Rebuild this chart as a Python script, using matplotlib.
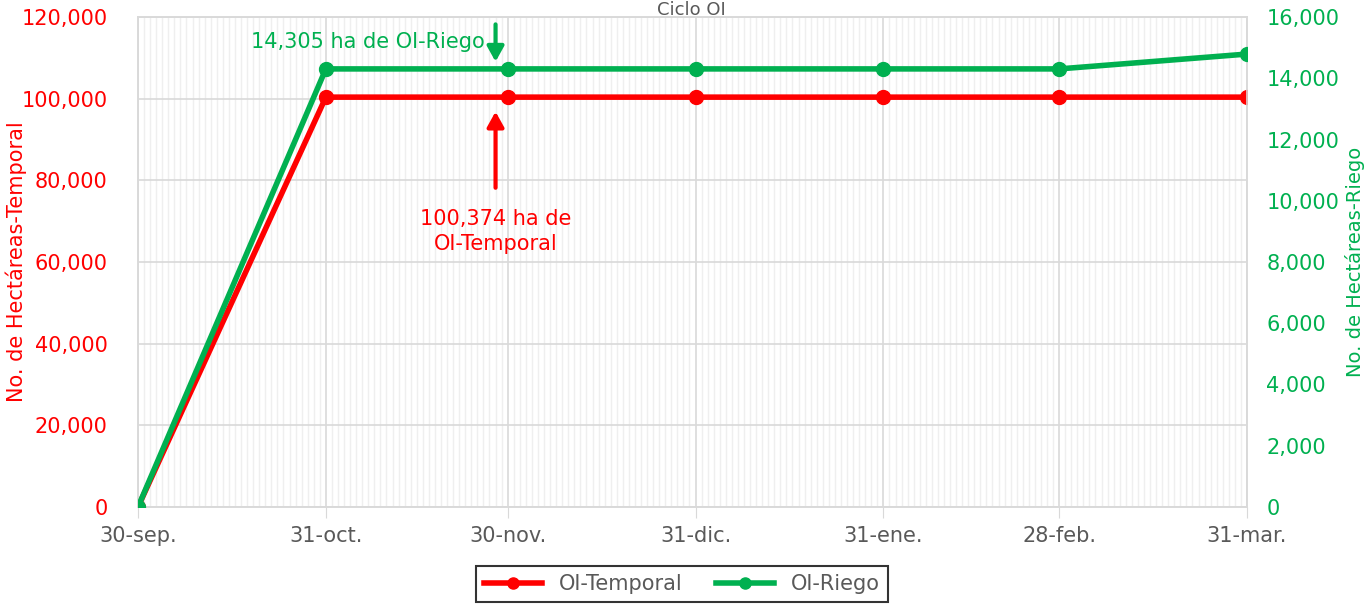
import matplotlib
matplotlib.use("Agg")
import matplotlib.pyplot as plt
import matplotlib.dates as mdates
import pandas as pd
from matplotlib.ticker import FuncFormatter, MultipleLocator

dates = ["2023-09-30", "2023-10-31", "2023-11-30", "2023-12-31", "2024-01-31", "2024-02-29", "2024-03-31"]
tick_labels = ["30-sep.", "31-oct.", "30-nov.", "31-dic.", "31-ene.", "28-feb.", "31-mar."]
temporal = [0, 100374, 100374, 100374, 100374, 100374, 100374]
riego = [0, 14305, 14305, 14305, 14305, 14305, 14790]

RED = "#ff0000"
GREEN = "#00b050"
GRAY_TXT = "#595959"
FS = 15

plt.rcParams['font.family'] = ['DejaVu Sans']

x = pd.to_datetime(dates)
fig = plt.figure(figsize=(13.69, 6.07), dpi=100)
ax = fig.add_axes([138/1369, 1 - 507/607, (1247-138)/1369, (507-17)/607])
ax2 = ax.twinx()

ax.set_xlim(x[0], x[-1])
ax.set_ylim(0, 120000)
ax2.set_ylim(0, 16000)

# grid
ax.xaxis.set_minor_locator(mdates.DayLocator())
ax.set_xticks(x)
ax.set_xticklabels(tick_labels, fontsize=FS, color=GRAY_TXT)
ax.grid(which='minor', axis='x', color='#efefef', linewidth=1)
ax.grid(which='major', axis='x', color='#d9d9d9', linewidth=1.2)
ax.yaxis.set_major_locator(MultipleLocator(20000))
ax.grid(which='major', axis='y', color='#d9d9d9', linewidth=1.2)
ax.set_axisbelow(True)
ax.tick_params(axis='x', which='minor', length=0)
ax.tick_params(axis='x', which='major', length=8, color='#d9d9d9', pad=6)

fmt = FuncFormatter(lambda v, p: f"{int(v):,}")
ax.yaxis.set_major_formatter(fmt)
ax.tick_params(axis='y', length=0, labelsize=FS, labelcolor=RED, pad=22)
ax2.yaxis.set_major_locator(MultipleLocator(2000))
ax2.yaxis.set_major_formatter(fmt)
ax2.tick_params(axis='y', length=0, labelsize=FS, labelcolor=GREEN, pad=14)

for a in (ax, ax2):
    for s in a.spines.values():
        s.set_color('#d9d9d9')
        s.set_linewidth(1.2)

l1, = ax.plot(x, temporal, color=RED, lw=4, marker='o', ms=10, label='OI-Temporal', zorder=3)
l2, = ax2.plot(x, riego, color=GREEN, lw=4, marker='o', ms=10, label='OI-Riego', zorder=3)

ax.set_ylabel("No. de Hectáreas-Temporal", color=RED, fontsize=FS)
ax.yaxis.set_label_coords(-0.1, 0.5)
ax2.set_ylabel("No. de Hectáreas-Riego", color=GREEN, fontsize=14)
ax2.yaxis.set_label_coords(1.0885, 0.5)

fig.text(0.505, 0.999, "Ciclo OI", ha='center', va='top', fontsize=13, color=GRAY_TXT)

# annotations
ax2.annotate("", xy=(x[2] - pd.Timedelta(days=2), 14450), xytext=(x[2] - pd.Timedelta(days=2), 15850),
             arrowprops=dict(arrowstyle='-|>,head_width=0.5,head_length=0.9', color=GREEN, lw=3))
ax2.text(x[1] + pd.Timedelta(days=7), 15200, "14,305 ha de OI-Riego", color=GREEN, fontsize=FS,
         ha='center', va='center')
ax.annotate("", xy=(x[2] - pd.Timedelta(days=2), 97500), xytext=(x[2] - pd.Timedelta(days=2), 77500),
            arrowprops=dict(arrowstyle='-|>,head_width=0.5,head_length=0.9', color=RED, lw=3))
ax.text(x[2] - pd.Timedelta(days=2), 67500, "100,374 ha de\nOI-Temporal", color=RED, fontsize=FS,
        ha='center', va='center', linespacing=1.3)

leg = fig.legend(handles=[l1, l2], loc='center', bbox_to_anchor=(682/1369, 1 - 584/607), ncol=2,
                 fontsize=FS, frameon=True, fancybox=False, edgecolor='black', handlelength=2.8,
                 columnspacing=1.6, borderpad=0.4, markerscale=0.8)
leg.get_frame().set_linewidth(1.5)
for t in leg.get_texts():
    t.set_color(GRAY_TXT)

fig.savefig("out.png", dpi=100)
